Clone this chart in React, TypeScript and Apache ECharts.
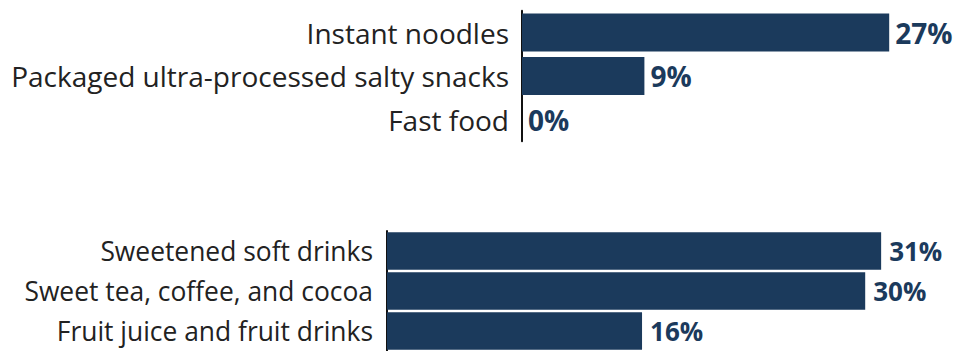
import React, { useEffect, useRef } from "react";
import * as echarts from "echarts";

const topCategories = ["Instant noodles", "Packaged ultra-processed salty snacks", "Fast food"];
const topValues = [27, 9, 0];
const bottomCategories = ["Sweetened soft drinks", "Sweet tea, coffee, and cocoa", "Fruit juice and fruit drinks"];
const bottomValues = [31, 30, 16];

const NAVY = "#1b3a5c";
const FONT = "'Open Sans', sans-serif";

export default function App() {
  const ref = useRef<HTMLDivElement>(null);
  useEffect(() => {
    if (!ref.current) return;
    const chart = echarts.init(ref.current, null, { renderer: "svg" });
    const topScale = 13.6;
    const botScale = 15.94;
    const topMax = 30;
    const botMax = 35;
    const yAxisCommon = {
      type: "category" as const,
      inverse: true,
      axisTick: { show: false },
      axisLine: { show: true, lineStyle: { color: "#111", width: 2 } },
    };
    const xAxisCommon = {
      type: "value" as const,
      min: 0,
      show: false,
      splitLine: { show: false },
    };
    const makeLabel = (size: number, distance: number) => ({
      show: true,
      position: "right" as const,
      distance,
      formatter: "{c}%",
      color: NAVY,
      fontSize: size,
      fontWeight: "bold" as const,
      fontFamily: FONT,
    });
    chart.setOption({
      animation: false,
      grid: [
        { left: 522, top: 10.75, height: 130.5, width: topMax * topScale },
        { left: 387, top: 231, height: 126, width: botMax * botScale },
      ],
      xAxis: [
        { ...xAxisCommon, gridIndex: 0, max: topMax },
        { ...xAxisCommon, gridIndex: 1, max: botMax },
      ],
      yAxis: [
        {
          ...yAxisCommon,
          gridIndex: 0,
          data: topCategories,
          axisLabel: { color: "#222", fontSize: 28, fontFamily: FONT, margin: 13 },
        },
        {
          ...yAxisCommon,
          gridIndex: 1,
          data: bottomCategories,
          axisLabel: { color: "#222", fontSize: 26.4, fontFamily: FONT, margin: 14 },
        },
      ],
      series: [
        {
          type: "bar",
          xAxisIndex: 0,
          yAxisIndex: 0,
          data: topValues,
          barWidth: 38,
          itemStyle: { color: NAVY },
          label: makeLabel(28, 6),
        },
        {
          type: "bar",
          xAxisIndex: 1,
          yAxisIndex: 1,
          data: bottomValues,
          barWidth: 37.5,
          itemStyle: { color: NAVY },
          label: makeLabel(26, 8),
        },
      ],
    });
    return () => chart.dispose();
  }, []);
  return (
    <div
      ref={ref}
      style={{ position: "fixed", left: 0, top: 0, width: 957, height: 351, background: "#fff", overflow: "hidden" }}
    />
  );
}
